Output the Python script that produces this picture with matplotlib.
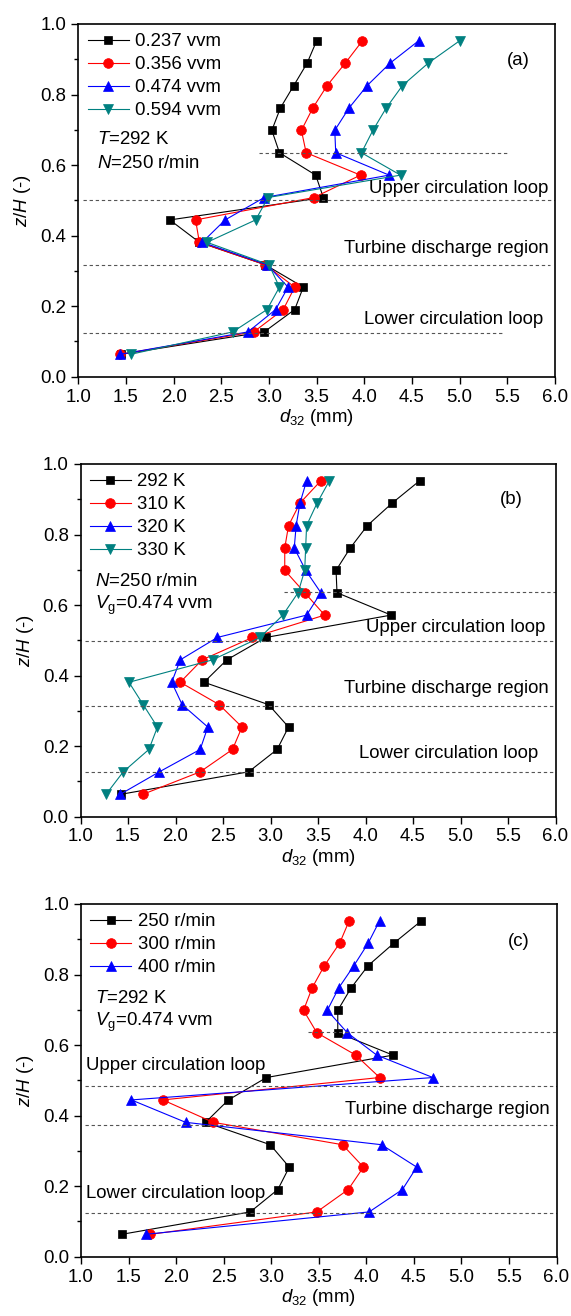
import matplotlib
matplotlib.use("Agg")
import matplotlib.pyplot as plt
from matplotlib.ticker import MultipleLocator

plt.rcParams['font.family'] = ['Liberation Sans', 'DejaVu Sans']
plt.rcParams['mathtext.fontset'] = 'custom'
plt.rcParams['mathtext.rm'] = 'Liberation Sans'
plt.rcParams['mathtext.it'] = 'Liberation Sans:italic'
plt.rcParams['mathtext.bf'] = 'Liberation Sans:bold'

# heights z/H (bottom to top)
z_levels = [0.0635, 0.127, 0.1905, 0.254, 0.3175, 0.381, 0.4445, 0.508,
            0.5715, 0.635, 0.6985, 0.762, 0.8255, 0.889, 0.9525]

# Panel (a): aeration rate (values top -> bottom)
a_labels = ['0.237 vvm', '0.356 vvm', '0.474 vvm', '0.594 vvm']
a_0237 = [3.50, 3.40, 3.26, 3.12, 3.03, 3.11, 3.49, 3.57, 1.96, 2.27, 2.96, 3.36, 3.27, 2.95, 1.45]
a_0356 = [3.98, 3.80, 3.61, 3.46, 3.34, 3.39, 3.96, 3.47, 2.23, 2.27, 2.96, 3.27, 3.15, 2.84, 1.44]
a_0474 = [4.57, 4.27, 4.03, 3.84, 3.69, 3.70, 4.26, 2.95, 2.54, 2.30, 2.98, 3.20, 3.07, 2.78, 1.44]
a_0594 = [5.00, 4.67, 4.40, 4.23, 4.09, 3.97, 4.38, 2.99, 2.86, 2.35, 3.00, 3.11, 2.98, 2.62, 1.55]

# Panel (b): temperature
b_labels = ['292 K', '310 K', '320 K', '330 K']
b_292 = [4.57, 4.28, 4.02, 3.84, 3.69, 3.70, 4.27, 2.95, 2.54, 2.30, 2.98, 3.19, 3.07, 2.77, 1.43]
b_310 = [3.53, 3.31, 3.19, 3.15, 3.15, 3.36, 3.57, 2.81, 2.28, 2.05, 2.46, 2.70, 2.60, 2.26, 1.66]
b_320 = [3.38, 3.31, 3.27, 3.25, 3.37, 3.53, 3.38, 2.44, 2.05, 1.96, 2.07, 2.34, 2.26, 1.83, 1.42]
b_330 = [3.62, 3.49, 3.38, 3.37, 3.36, 3.29, 3.13, 2.89, 2.39, 1.51, 1.66, 1.81, 1.72, 1.45, 1.27]

# Panel (c): agitation speed
c_labels = ['250 r/min', '300 r/min', '400 r/min']
c_250 = [4.58, 4.29, 4.02, 3.84, 3.70, 3.70, 4.28, 2.95, 2.55, 2.31, 2.99, 3.19, 3.07, 2.78, 1.43]
c_300 = [3.82, 3.72, 3.56, 3.43, 3.34, 3.48, 3.89, 4.14, 1.86, 2.39, 3.75, 3.97, 3.81, 3.48, 1.73]
c_400 = [4.14, 4.02, 3.87, 3.71, 3.59, 3.80, 4.11, 4.70, 1.53, 2.10, 4.16, 4.53, 4.38, 4.03, 1.68]

# region boundary lines: (z, x_start, x_end)
a_bounds = [(0.635, 2.90, 5.50), (0.500, 1.05, 6.00), (0.317, 1.05, 5.95), (0.125, 1.05, 5.46)]
b_bounds = [(0.638, 3.14, 6.00), (0.499, 1.05, 6.00), (0.3145, 1.05, 5.98), (0.127, 1.05, 6.00)]
c_bounds = [(0.638, 3.39, 6.00), (0.483, 1.04, 6.00), (0.373, 1.04, 6.00), (0.123, 1.04, 6.00)]

colors = ['black', '#FF0000', '#0000FF', '#008080']
markers = ['s', 'o', '^', 'v']
msizes = [5.5, 7, 7.5, 7.5]

FS = 13.4

fig = plt.figure(figsize=(5.71, 13.16), dpi=100)
W, H = 571.0, 1316.0

def make_ax(left, right, top, bottom):
    return fig.add_axes([left / W, 1 - bottom / H, (right - left) / W, (bottom - top) / H])

axes = [make_ax(78.3, 555, 24, 376.7), make_ax(80.5, 555.5, 464, 816.6), make_ax(81, 556.5, 904, 1256.7)]

series = [
    (a_labels, [a_0237, a_0356, a_0474, a_0594]),
    (b_labels, [b_292, b_310, b_320, b_330]),
    (c_labels, [c_250, c_300, c_400]),
]
bounds = [a_bounds, b_bounds, c_bounds]
zlev_top = z_levels[::-1]

for ax, (labels, data), bnd in zip(axes, series, bounds):
    for i, (lab, d) in enumerate(zip(labels, data)):
        ax.plot(d, zlev_top, color=colors[i], marker=markers[i], ms=msizes[i],
                lw=0.8, label=lab, markeredgewidth=0.5, markeredgecolor=colors[i])
    for (zb, x0, x1) in bnd:
        ax.hlines(zb, x0, x1, colors='#555555', linestyles=(0, (3, 2.5)), lw=0.8)
    ax.set_xlim(1.0, 6.0)
    ax.set_ylim(0.0, 1.0)
    ax.xaxis.set_major_locator(MultipleLocator(0.5))
    ax.yaxis.set_major_locator(MultipleLocator(0.2))
    ax.yaxis.set_minor_locator(MultipleLocator(0.1))
    ax.xaxis.set_major_formatter(matplotlib.ticker.FormatStrFormatter('%.1f'))
    ax.yaxis.set_major_formatter(matplotlib.ticker.FormatStrFormatter('%.1f'))
    ax.tick_params(axis='both', which='major', direction='out', length=5, width=1.0,
                   labelsize=FS, top=False, right=False)
    ax.tick_params(axis='y', which='minor', direction='out', length=3, width=1.0, right=False)
    for sp in ax.spines.values():
        sp.set_linewidth(1.2)
    ax.set_xlabel(r'$d_{\mathrm{32}}$ (mm)', fontsize=FS, labelpad=1)
    ax.set_ylabel(r'$z/H$ (-)', fontsize=FS, labelpad=5)
    ax.legend(loc='upper left', bbox_to_anchor=(0.0, 1.0), frameon=False, fontsize=FS,
              handlelength=2.2, handletextpad=0.35, labelspacing=0.32, borderaxespad=0.2,
              borderpad=0.3)

# panel (a) annotations
ax = axes[0]
ax.text(1.20, 0.673, r'$T$=292 K', fontsize=FS, va='center', ha='left')
ax.text(1.20, 0.605, r'$N$=250 r/min', fontsize=FS, va='center', ha='left')
ax.text(5.61, 0.897, '(a)', fontsize=FS, va='center', ha='center')
ax.text(5.93, 0.534, 'Upper circulation loop', fontsize=FS, va='center', ha='right')
ax.text(5.93, 0.364, 'Turbine discharge region', fontsize=FS, va='center', ha='right')
ax.text(5.88, 0.163, 'Lower circulation loop', fontsize=FS, va='center', ha='right')

# panel (b)
ax = axes[1]
ax.text(1.15, 0.666, r'$N$=250 r/min', fontsize=FS, va='center', ha='left')
ax.text(1.15, 0.598, r'$V_{\mathrm{g}}$=0.474 vvm', fontsize=FS, va='center', ha='left')
ax.text(5.54, 0.898, '(b)', fontsize=FS, va='center', ha='center')
ax.text(5.89, 0.537, 'Upper circulation loop', fontsize=FS, va='center', ha='right')
ax.text(5.93, 0.362, 'Turbine discharge region', fontsize=FS, va='center', ha='right')
ax.text(5.82, 0.178, 'Lower circulation loop', fontsize=FS, va='center', ha='right')

# panel (c)
ax = axes[2]
ax.text(1.15, 0.733, r'$T$=292 K', fontsize=FS, va='center', ha='left')
ax.text(1.15, 0.664, r'$V_{\mathrm{g}}$=0.474 vvm', fontsize=FS, va='center', ha='left')
ax.text(5.60, 0.893, '(c)', fontsize=FS, va='center', ha='center')
ax.text(1.05, 0.541, 'Upper circulation loop', fontsize=FS, va='center', ha='left')
ax.text(5.93, 0.418, 'Turbine discharge region', fontsize=FS, va='center', ha='right')
ax.text(1.05, 0.180, 'Lower circulation loop', fontsize=FS, va='center', ha='left')

fig.savefig('out.png', dpi=100)
